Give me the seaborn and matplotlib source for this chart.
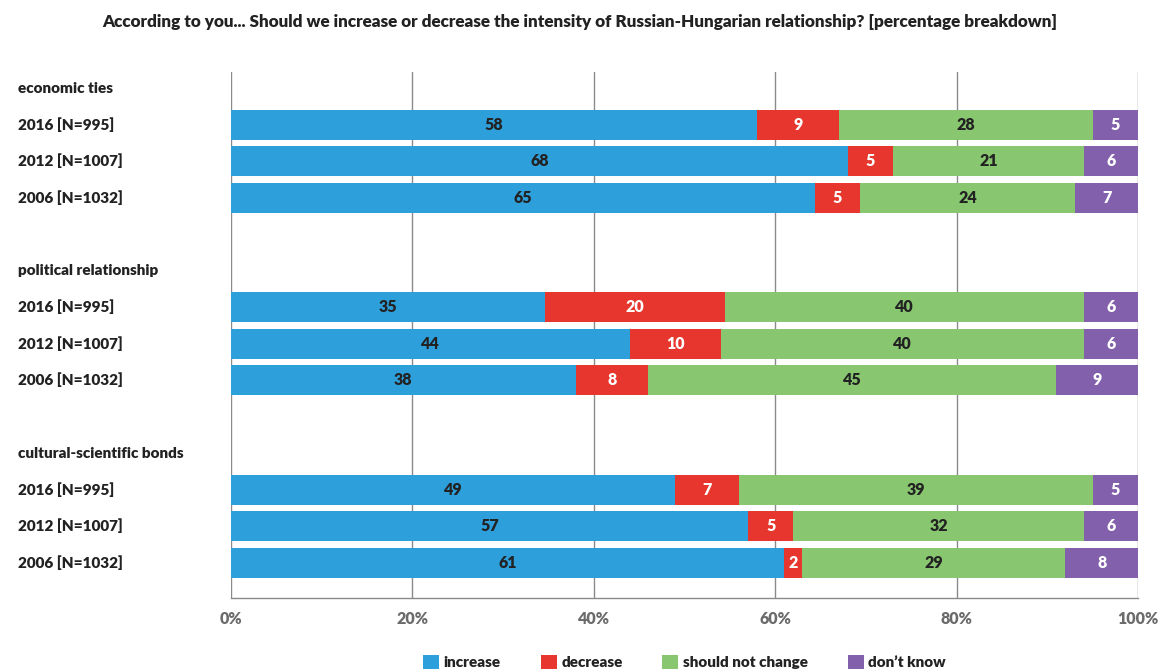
import numpy as np
import pandas as pd
import matplotlib
matplotlib.use('Agg')
import matplotlib.pyplot as plt
import matplotlib.transforms as mtransforms
from matplotlib.patches import Patch
import seaborn as sns

# data
groups = ['economic ties', 'political relationship', 'cultural-scientific bonds']
years = ['2016 [N=995]', '2012 [N=1007]', '2006 [N=1032]']
answers = ['increase', 'decrease', 'should not change', 'don\u2019t know']
colors = ['#2D9FDB', '#E6362E', '#88C66F', '#8360AB']
label_colors = ['#222222', 'white', '#222222', 'white']

increase = [58, 68, 65, 35, 44, 38, 49, 57, 61]
decrease = [9, 5, 5, 20, 10, 8, 7, 5, 2]
no_change = [28, 21, 24, 40, 40, 45, 39, 32, 29]
dont_know = [5, 6, 7, 6, 6, 9, 5, 6, 8]

sns.set_theme(style='white')
plt.rcParams['font.family'] = ['Lato', 'DejaVu Sans']
W = 'heavy'

# build row order: header, 3 years, blank spacer
order = []
labels = []
recs = []
for gi, g in enumerate(groups):
    order.append('H%d' % gi)
    labels.append((g, True))
    for yi, y in enumerate(years):
        i = gi * 3 + yi
        key = '%d|%s' % (gi, y)
        order.append(key)
        labels.append((y, False))
        vals = np.array([increase[i], decrease[i], no_change[i], dont_know[i]], float)
        share = vals / vals.sum() * 100
        cum = np.cumsum(share)
        recs.append(dict(key=key, raw=vals.astype(int), share=share,
                         cum0=cum[0], cum1=cum[1], cum2=cum[2], cum3=cum[3]))
    if gi < len(groups) - 1:
        order.append('B%d' % gi)
        labels.append(('', False))
df = pd.DataFrame(recs)

fig, ax = plt.subplots(figsize=(11.59, 6.71), dpi=100)
fig.subplots_adjust(left=231/1159, right=1138/1159, top=1-72/671, bottom=1-598/671)

for k in range(3, -1, -1):
    sns.barplot(data=df, x='cum%d' % k, y='key', order=order, color=colors[k],
                saturation=1, width=0.82, errorbar=None, orient='h',
                linewidth=0, ax=ax)

# segment value labels
for _, r in df.iterrows():
    pos = order.index(r['key'])
    left = 0
    for k in range(4):
        w = r['share'][k]
        ax.text(left + w / 2, pos, str(r['raw'][k]), ha='center', va='center',
                fontsize=11.5, fontweight=W, color=label_colors[k])
        left += w

# row labels on the left
trans = mtransforms.blended_transform_factory(fig.transFigure, ax.transData)
for pos, (txt, is_head) in enumerate(labels):
    ax.text(18/1159, pos, txt, transform=trans, ha='left', va='center',
            fontsize=11, fontweight=W, color='#222222')

ax.set_yticks([])
ax.set_ylabel('')
ax.set_xlabel('')
ax.set_xlim(0, 100)
ax.set_ylim(13.97, -0.44)
ax.set_xticks([0, 20, 40, 60, 80, 100])
ax.set_xticklabels(['0%', '20%', '40%', '60%', '80%', '100%'])
ax.tick_params(axis='x', length=0, pad=9, labelsize=11.5, labelcolor='#6b6b6b')
for t in ax.get_xticklabels():
    t.set_fontweight(W)
ax.grid(axis='x', color='#8a8a8a', linewidth=1)
ax.grid(axis='y', visible=False)
ax.set_axisbelow(True)
for s in ['top', 'right', 'left']:
    ax.spines[s].set_visible(False)
ax.spines['bottom'].set_color('#8a8a8a')
ax.spines['bottom'].set_linewidth(1)

handles = [Patch(facecolor=c, edgecolor='none', label=a) for c, a in zip(colors, answers)]
leg = ax.legend(handles=handles, loc='center', bbox_to_anchor=(0.5, -0.122), ncol=4,
                frameon=False, fontsize=11, handlelength=1.05, handleheight=1.0,
                handletextpad=0.3, columnspacing=2.6)
for t in leg.get_texts():
    t.set_fontweight(W)
    t.set_color('#222222')

fig.text(0.5, 1 - 22/671,
         'According to you... Should we increase or decrease the intensity of '
         'Russian-Hungarian relationship? [percentage breakdown]',
         ha='center', va='center', fontsize=12.3, fontweight=W, color='#222222')

fig.savefig('out.png', dpi=100)
